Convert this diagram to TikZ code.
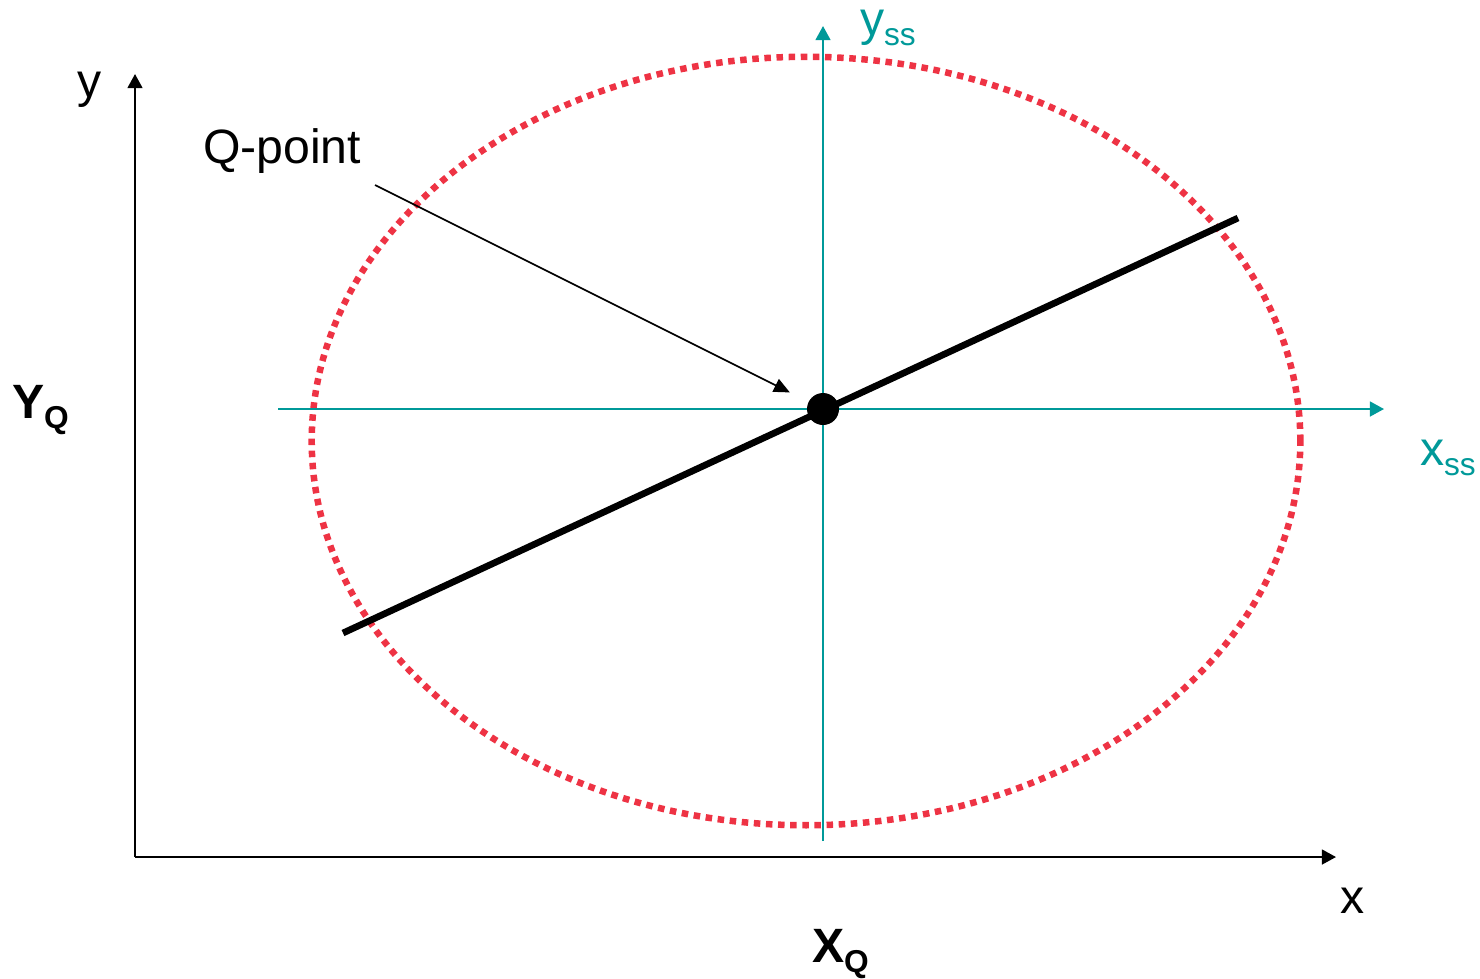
\documentclass[tikz,border=0pt]{standalone}
\usepackage{fontspec}
\setmainfont{Liberation Sans}
\usetikzlibrary{arrows.meta}
\definecolor{ssteal}{RGB}{0,153,153}
\definecolor{dotred}{RGB}{238,51,68}
\newcommand{\mysub}[1]{\raisebox{-3pt}{\fontsize{9}{10}\selectfont #1}}
\begin{document}
\begin{tikzpicture}[x=0.01cm,y=-0.01cm,
  axisline/.style={black, line width=0.6pt, -{Triangle[length=4pt,width=4.2pt]}},
  ssaxis/.style={ssteal, line width=0.6pt, -{Triangle[length=4pt,width=4.2pt]}},
  lbl/.style={inner sep=0pt, outer sep=0pt, anchor=base west, font=\fontsize{13.7}{16}\selectfont},
  sslbl/.style={lbl, text=ssteal},
  qdot/.style={circle, fill=black, inner sep=0pt, outer sep=0pt, minimum size=9.1pt},
  leader/.style={black, line width=0.45pt, -{Triangle[length=4.5pt,width=4pt]}, shorten >=6pt},
  ssline/.style={black, line width=1.9pt},
  ellipsedots/.style={dotred, line width=1.85pt, dash pattern=on 1.85pt off 1.6pt}
]
\useasboundingbox (0,0) rectangle (1480,978);
% named coordinates
\coordinate (O) at (135,857);
\coordinate (yend) at (135,74);
\coordinate (xend) at (1336,857);
\coordinate (hstart) at (278,409);
\coordinate (hend) at (1384,409);
\coordinate (vstart) at (823,841);
\coordinate (vend) at (823,26);
\coordinate (lineA) at (343,633);
\coordinate (lineB) at (1238,218);
\coordinate (lead) at (375,185);
% ellipse
\draw[ellipsedots] (806,441) ellipse [x radius=4.94cm, y radius=3.84cm];
% main axes
\draw[axisline] (O) -- (yend);
\draw[axisline] (O) -- (xend);
% small-signal axes
\draw[ssaxis] (hstart) -- (hend);
\draw[ssaxis] (vstart) -- (vend);
% load line
\draw[ssline] (lineA) -- (lineB);
% Q point
\node[qdot] (Q) at (823,409) {};
\draw[leader] (lead) -- (Q);
% labels
\node[lbl] (ylab) at (77,97) {y};
\node[lbl] (xlab) at (1340,913) {x};
\node[lbl] (qlab) at (203,163) {Q-point};
\node[lbl, font=\fontsize{13.7}{16}\selectfont\bfseries] (YQ) at (12,418) {Y\mysub{Q}};
\node[lbl, font=\fontsize{13.7}{16}\selectfont\bfseries] (XQ) at (812,962) {X\mysub{Q}};
\node[sslbl] (yss) at (860,35) {y\mysub{ss}};
\node[sslbl] (xss) at (1420,465) {x\mysub{ss}};
\end{tikzpicture}
\end{document}
